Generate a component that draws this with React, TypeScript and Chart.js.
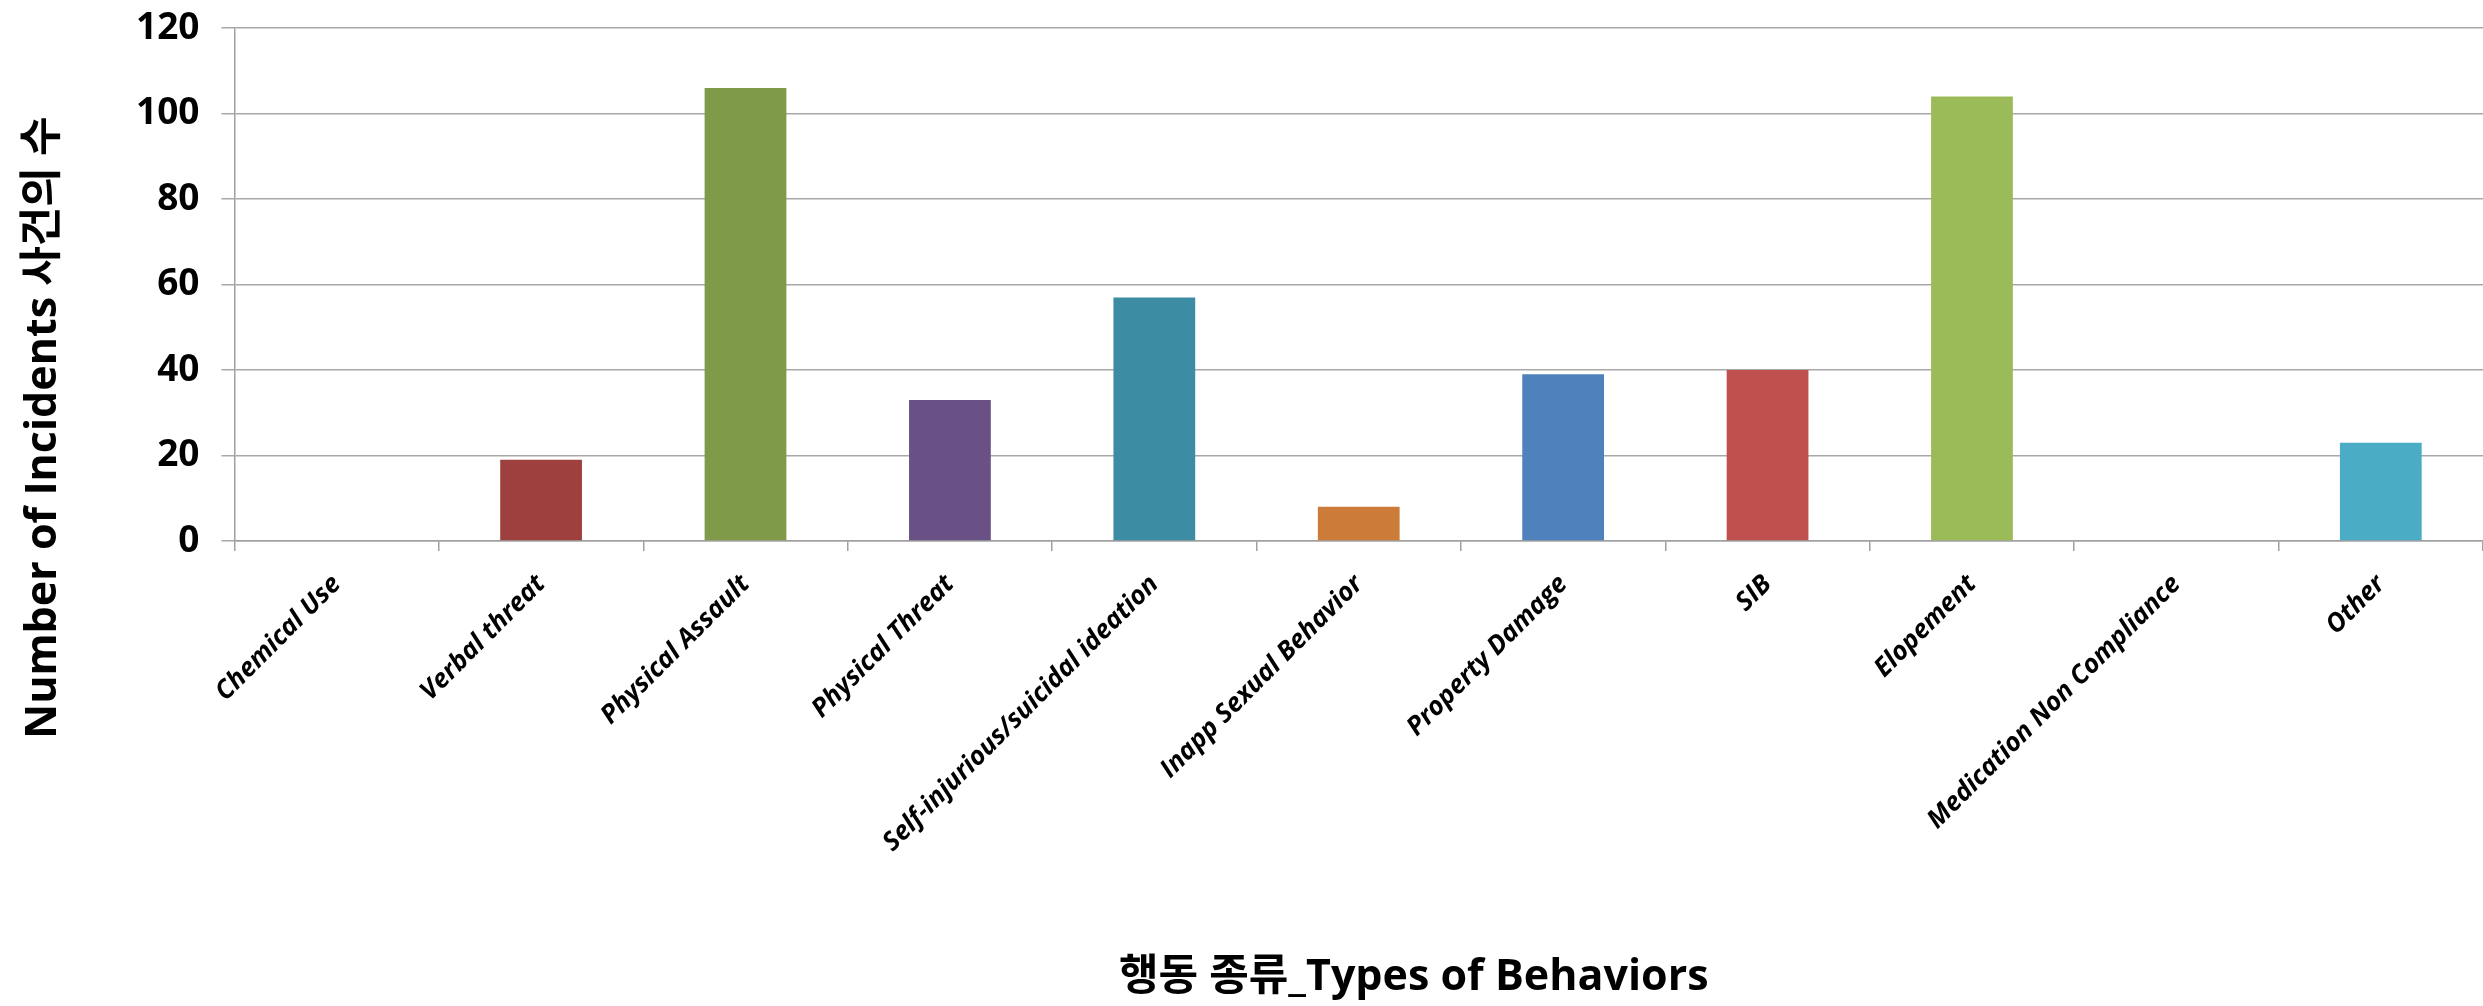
import React, { useEffect, useRef } from "react";
import { Chart, registerables } from "chart.js";

Chart.register(...registerables);

const categories = [
  "Chemical Use",
  "Verbal threat",
  "Physical Assault",
  "Physical Threat",
  "Self-injurious/suicidal ideation",
  "Inapp Sexual Behavior",
  "Property Damage",
  "SIB",
  "Elopement",
  "Medication Non Compliance",
  "Other",
];
const incidents = [0, 19, 106, 33, 57, 8, 39, 40, 104, 0, 23];
const barColors = [
  "#4F81BD",
  "#9E413E",
  "#7F9A48",
  "#695185",
  "#3C8DA3",
  "#CC7B38",
  "#4F81BD",
  "#C0504D",
  "#9BBB59",
  "#2C4D75",
  "#4BACC6",
];
const yTicks = [0, 20, 40, 60, 80, 100, 120];
const yTitle = "Number of Incidents 사건의 수";
const xTitle = "행동 종류_Types of Behaviors";

const TITLE_FONT = "bold 43px 'Open Sans', 'Noto Sans CJK KR', sans-serif";

const titlesPlugin = {
  id: "offsetTitles",
  afterDraw(chart: any) {
    const { ctx, chartArea, height } = chart;
    ctx.save();
    ctx.fillStyle = "#000";
    ctx.font = TITLE_FONT;
    ctx.textAlign = "center";
    ctx.textBaseline = "middle";
    // x title
    ctx.fillText(xTitle, (chartArea.left + chartArea.right) / 2 + 55, height - 28);
    // y title
    ctx.translate(44, (chartArea.top + chartArea.bottom) / 2 + 143);
    ctx.rotate(-Math.PI / 2);
    ctx.fillText(yTitle, 0, 0);
    ctx.restore();
  },
};

export default function App() {
  const ref = useRef<HTMLCanvasElement | null>(null);
  useEffect(() => {
    document.body.style.margin = "0";
    const ctx = ref.current!.getContext("2d")!;
    const chart = new Chart(ctx, {
      type: "bar",
      data: {
        labels: categories,
        datasets: [
          {
            data: incidents,
            backgroundColor: barColors,
            borderWidth: 0,
            categoryPercentage: 1,
            barPercentage: 0.4,
          },
        ],
      },
      plugins: [titlesPlugin],
      options: {
        animation: false,
        responsive: false,
        maintainAspectRatio: false,
        layout: { padding: { top: 0, right: 0, left: 114, bottom: 130 } },
        plugins: { legend: { display: false }, tooltip: { enabled: false } },
        scales: {
          x: {
            grid: {
              display: true,
              drawOnChartArea: false,
              drawTicks: true,
              tickLength: 10,
              color: "#A0A0A0",
              lineWidth: 1.5,
            },
            border: { display: true, color: "#A0A0A0", width: 1.5 },
            ticks: {
              autoSkip: false,
              maxRotation: 45,
              minRotation: 45,
              padding: 18,
              color: "#000",
              font: { family: "'Open Sans'", size: 26, weight: "bold", style: "italic" },
            },
          },
          y: {
            min: 0,
            max: 120,
            afterBuildTicks: (axis: any) => {
              axis.ticks = yTicks.map((v) => ({ value: v }));
            },
            afterFit: (scale: any) => {
              scale.paddingTop = Math.max(0, scale.paddingTop - 16);
            },
            ticks: {
              padding: 22,
              color: "#000",
              font: { family: "'Open Sans'", size: 37, weight: "bold" },
            },
            grid: {
              color: "#A8A8A8",
              lineWidth: 1.5,
              tickLength: 13,
            },
            border: { display: true, color: "#A0A0A0", width: 1.5 },
          },
        },
      },
    });
    return () => chart.destroy();
  }, []);
  return (
    <div style={{ position: "absolute", left: 0, top: 0, width: 2483, height: 1006 }}>
      <canvas ref={ref} width={2483} height={1006} style={{ width: 2483, height: 1006 }} />
    </div>
  );
}
